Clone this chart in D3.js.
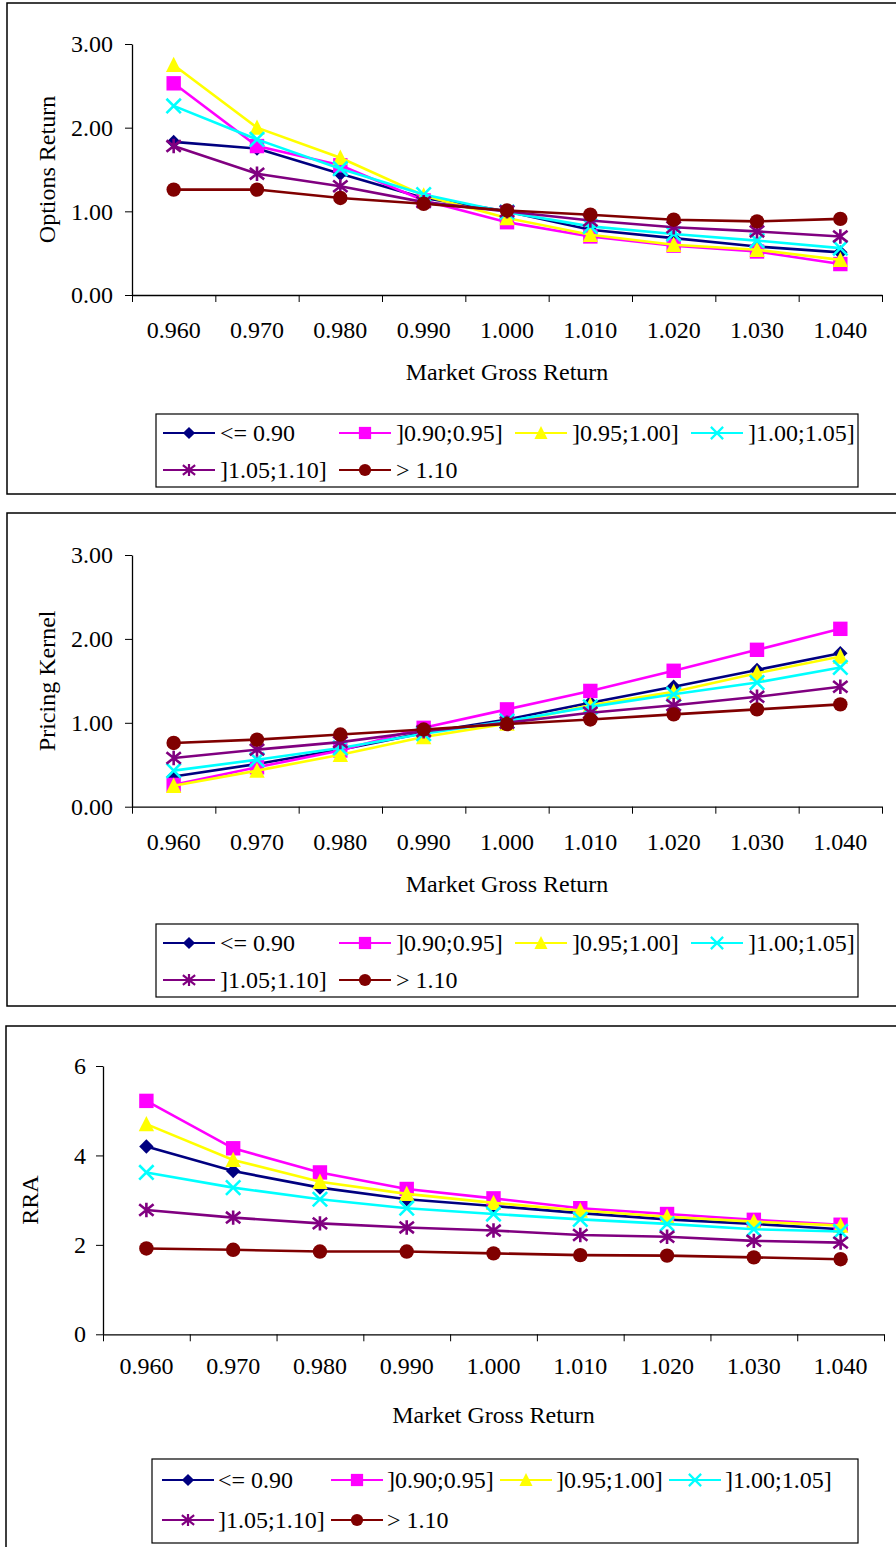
<!DOCTYPE html>
<html>
<head>
<meta charset="utf-8">
<script src="https://cdn.jsdelivr.net/npm/d3@7"></script>
<style>
  body { margin: 0; background: #fff; }
  svg { display: block; }
  svg text { font-family: "Liberation Serif", "Times New Roman", serif; font-size: 24px; fill: #000; }
  .axis path, .axis line { stroke: #000; }
</style>
</head>
<body>
<div id="chart"></div>
<script>
// market gross return categories
const categories = ["0.960", "0.970", "0.980", "0.990", "1.000", "1.010", "1.020", "1.030", "1.040"];

const seriesNames = ["<= 0.90", "]0.90;0.95]", "]0.95;1.00]", "]1.00;1.05]", "]1.05;1.10]", "> 1.10"];
const seriesColors = ["#000080", "#ff00ff", "#ffff00", "#00ffff", "#800080", "#800000"];
const seriesMarkers = ["diamond", "square", "triangle", "x", "asterisk", "circle"];

// Options Return
const optLe090 = [1.83, 1.75, 1.45, 1.16, 1.00, 0.78, 0.68, 0.58, 0.51];
const opt090095 = [2.53, 1.78, 1.55, 1.13, 0.87, 0.70, 0.59, 0.52, 0.37];
const opt095100 = [2.75, 2.00, 1.64, 1.19, 0.92, 0.72, 0.60, 0.54, 0.42];
const opt100105 = [2.26, 1.86, 1.51, 1.20, 0.99, 0.82, 0.73, 0.65, 0.56];
const opt105110 = [1.78, 1.45, 1.30, 1.11, 1.00, 0.89, 0.81, 0.76, 0.70];
const optGt110 = [1.26, 1.26, 1.16, 1.09, 1.01, 0.96, 0.90, 0.88, 0.91];

// Pricing Kernel
const pkLe090 = [0.36, 0.51, 0.68, 0.88, 1.04, 1.24, 1.43, 1.63, 1.83];
const pk090095 = [0.26, 0.47, 0.67, 0.94, 1.16, 1.38, 1.62, 1.87, 2.12];
const pk095100 = [0.25, 0.43, 0.62, 0.83, 0.99, 1.21, 1.37, 1.59, 1.79];
const pk100105 = [0.43, 0.56, 0.70, 0.87, 1.02, 1.19, 1.34, 1.48, 1.66];
const pk105110 = [0.58, 0.68, 0.77, 0.90, 1.00, 1.12, 1.21, 1.31, 1.43];
const pkGt110 = [0.76, 0.80, 0.86, 0.92, 0.985, 1.04, 1.10, 1.16, 1.22];

// RRA
const rraLe090 = [4.20, 3.65, 3.28, 3.02, 2.87, 2.71, 2.57, 2.47, 2.35];
const rra090095 = [5.22, 4.16, 3.62, 3.25, 3.04, 2.82, 2.69, 2.56, 2.45];
const rra095100 = [4.70, 3.90, 3.41, 3.14, 2.94, 2.77, 2.63, 2.52, 2.43];
const rra100105 = [3.62, 3.28, 3.02, 2.82, 2.69, 2.57, 2.47, 2.35, 2.30];
const rra105110 = [2.78, 2.61, 2.48, 2.39, 2.32, 2.22, 2.18, 2.09, 2.05];
const rraGt110 = [1.92, 1.89, 1.85, 1.85, 1.81, 1.77, 1.76, 1.72, 1.68];

const optTicks = [0, 1, 2, 3];
const pkTicks = [0, 1, 2, 3];
const rraTicks = [0, 2, 4, 6];

const svg = d3.select("#chart").append("svg")
    .attr("width", 896)
    .attr("height", 1547);

function markerPath(type) {
    const r = 7.2;
    if (type === "diamond") return `M0,${-r}L${r},0L0,${r}L${-r},0Z`;
    if (type === "square") return `M${-r},${-r}H${r}V${r}H${-r}Z`;
    if (type === "triangle") return `M0,${-r - 1}L${r + 0.5},${r}L${-r - 0.5},${r}Z`;
    if (type === "x") return `M${-r},${-r}L${r},${r}M${-r},${r}L${r},${-r}`;
    if (type === "asterisk") return `M${-r},${-r + 1.5}L${r},${r - 1.5}M${-r},${r - 1.5}L${r},${-r + 1.5}M0,${-r}V${r}`;
    return null;
}

function drawMarker(g, type, color) {
    if (type === "circle") {
        g.append("circle").attr("r", 7.2).attr("fill", color);
    } else if (type === "x" || type === "asterisk") {
        g.append("path").attr("d", markerPath(type))
            .attr("fill", "none").attr("stroke", color).attr("stroke-width", 2.6);
    } else {
        g.append("path").attr("d", markerPath(type)).attr("fill", color);
    }
}

function drawPanel(p) {
    const root = svg.append("g");

    // outer frame
    root.append("rect")
        .attr("x", p.frame[0]).attr("y", p.frame[1])
        .attr("width", p.frame[2]).attr("height", p.frame[3])
        .attr("fill", "none").attr("stroke", "#000").attr("stroke-width", 1.5);

    const x = d3.scaleBand().domain(categories).range([p.left, p.right]).padding(0);
    const xEdge = d3.scaleLinear().domain([0, categories.length]).range([p.left, p.right]);
    const y = d3.scaleLinear().domain(p.yDomain).range([p.bottom, p.top]);

    // y axis
    const yAxis = root.append("g")
        .attr("class", "axis")
        .attr("transform", `translate(${p.left},0)`)
        .call(d3.axisLeft(y).tickValues(p.ticks).tickFormat(p.fmt).tickSizeInner(7).tickSizeOuter(0).tickPadding(p.yPad));
    yAxis.select(".domain").attr("stroke-width", 1.3);

    // x axis: boundary ticks
    root.append("g")
        .attr("class", "axis")
        .attr("transform", `translate(0,${p.bottom})`)
        .call(d3.axisBottom(xEdge).tickValues(d3.range(categories.length + 1)).tickFormat("").tickSizeInner(7).tickSizeOuter(0))
        .select(".domain").attr("stroke-width", 1.3);
    // x axis: labels at category centres
    const xLab = root.append("g")
        .attr("class", "axis")
        .attr("transform", `translate(0,${p.bottom})`)
        .call(d3.axisBottom(x).tickSize(0).tickPadding(p.xPad));
    xLab.select(".domain").remove();

    // axis titles
    root.append("text")
        .attr("transform", `translate(${p.yTitleX},${(p.top + p.bottom) / 2}) rotate(-90)`)
        .attr("text-anchor", "middle")
        .attr("dominant-baseline", "central")
        .text(p.yTitle);

    root.append("text")
        .attr("x", (p.left + p.right) / 2)
        .attr("y", p.xTitleY)
        .attr("text-anchor", "middle")
        .text("Market Gross Return");

    // series
    const line = d3.line()
        .x((d, i) => x(categories[i]) + x.bandwidth() / 2)
        .y(d => y(d));

    p.series.forEach((vals, s) => {
        const sg = root.append("g").attr("class", "series s" + s);
        sg.append("path")
            .datum(vals)
            .attr("d", line)
            .attr("fill", "none")
            .attr("stroke", seriesColors[s])
            .attr("stroke-width", 2.6);
        sg.selectAll(".mk")
            .data(vals)
            .enter()
            .append("g")
            .attr("class", "mk")
            .attr("transform", (d, i) => `translate(${x(categories[i]) + x.bandwidth() / 2},${y(d)})`)
            .each(function () { drawMarker(d3.select(this), seriesMarkers[s], seriesColors[s]); });
    });

    // legend
    const lg = root.append("g");
    lg.append("rect")
        .attr("x", p.legend.x).attr("y", p.legend.y)
        .attr("width", p.legend.w).attr("height", p.legend.h)
        .attr("fill", "#fff").attr("stroke", "#000").attr("stroke-width", 1.2);

    seriesNames.forEach((name, s) => {
        const col = s % 4, row = Math.floor(s / 4);
        const lx = p.legend.cols[col];
        const ly = p.legend.rows[row];
        const item = lg.append("g").attr("transform", `translate(${lx},${ly})`);
        item.append("line")
            .attr("x1", 0).attr("x2", 52)
            .attr("stroke", seriesColors[s]).attr("stroke-width", 2);
        const m = item.append("g").attr("transform", "translate(26,0) scale(0.85)");
        drawMarker(m, seriesMarkers[s], seriesColors[s]);
        item.append("text")
            .attr("x", p.legend.textDx)
            .attr("dy", "0.35em")
            .text(name);
    });
}

drawPanel({
    frame: [7, 3, 900, 491],
    left: 132, right: 882, top: 44, bottom: 295,
    yDomain: [0, 3], ticks: optTicks, fmt: d3.format(".2f"), yPad: 12, xPad: 26,
    yTitle: "Options Return", yTitleX: 47, xTitleY: 380,
    series: [optLe090, opt090095, opt095100, opt100105, opt105110, optGt110],
    legend: { x: 156, y: 414, w: 702, h: 73, rows: [433, 470], cols: [163, 339, 515, 691], textDx: 57 }
});

drawPanel({
    frame: [7, 513, 900, 493],
    left: 132, right: 882, top: 555, bottom: 806.7,
    yDomain: [0, 3], ticks: pkTicks, fmt: d3.format(".2f"), yPad: 12, xPad: 26,
    yTitle: "Pricing Kernel", yTitleX: 47, xTitleY: 892,
    series: [pkLe090, pk090095, pk095100, pk100105, pk105110, pkGt110],
    legend: { x: 156, y: 924, w: 702, h: 73, rows: [943, 980], cols: [163, 339, 515, 691], textDx: 57 }
});

drawPanel({
    frame: [6, 1026, 900, 530],
    left: 103, right: 884, top: 1066, bottom: 1334.3,
    yDomain: [0, 6], ticks: rraTicks, fmt: d3.format("d"), yPad: 10, xPad: 23,
    yTitle: "RRA", yTitleX: 30, xTitleY: 1423,
    series: [rraLe090, rra090095, rra095100, rra100105, rra105110, rraGt110],
    legend: { x: 152, y: 1459, w: 706, h: 84, rows: [1480, 1520], cols: [162, 331, 500, 669], textDx: 56 }
});
</script>
</body>
</html>
